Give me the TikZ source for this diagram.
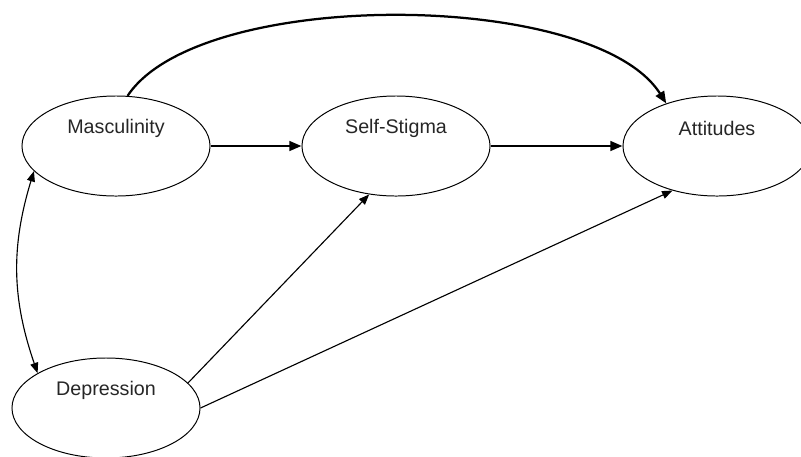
\documentclass[tikz,border=0pt]{standalone}
\usepackage{fontspec}
\setmainfont{Liberation Sans}
\usetikzlibrary{positioning,shapes.geometric,arrows.meta}

\begin{document}
\begin{tikzpicture}[x=0.025cm,y=-0.025cm,
                    var/.style={ellipse,draw,line width=0.7pt,inner sep=0pt,
                                minimum width=4.7cm,minimum height=2.5cm},
                    varlabel/.style={text=black!85,font=\fontsize{14}{17}\selectfont},
                    strong path/.style={line width=1.6pt,-{Triangle[length=3mm,width=2.4mm]}},
                    weak path/.style={line width=0.8pt,-{Triangle[length=2.6mm,width=2mm]}},
                    covary/.style={line width=0.8pt,{Triangle[length=2.6mm,width=2mm]}-{Triangle[length=2.6mm,width=2mm]}}
                   ]
  \useasboundingbox (0,0) rectangle (801,456);
  \clip (0,0) rectangle (801,456);
  \node[var] (masc) at (116,146) {};
  \node[var] (ss) at (396,146) {};
  \node[var] (att) at (717,146) {};
  \node[var] (dep) at (106,408) {};
  \node[varlabel] (masclabel) at ([yshift=0.45cm]masc.center) {Masculinity};
  \node[varlabel] (sslabel) at ([yshift=0.45cm]ss.center) {Self-Stigma};
  \node[varlabel] (attlabel) at ([yshift=0.45cm]att.center) {Attitudes};
  \node[varlabel] (deplabel) at ([yshift=0.45cm]dep.center) {Depression};
  \path%
    (masc.east) edge[strong path] (ss.west)   % direct paths
    (ss.east) edge[strong path] (att.west)
    (dep.17) edge[weak path] (ss.241)
    (dep.east) edge[weak path] (att.225)
    (masc.197) edge[covary,bend right=18] (dep.153);
  \draw[strong path] (masc.77) .. controls +(72,-109) and +(-72,-114) .. (att.140);
\end{tikzpicture}
\end{document}
